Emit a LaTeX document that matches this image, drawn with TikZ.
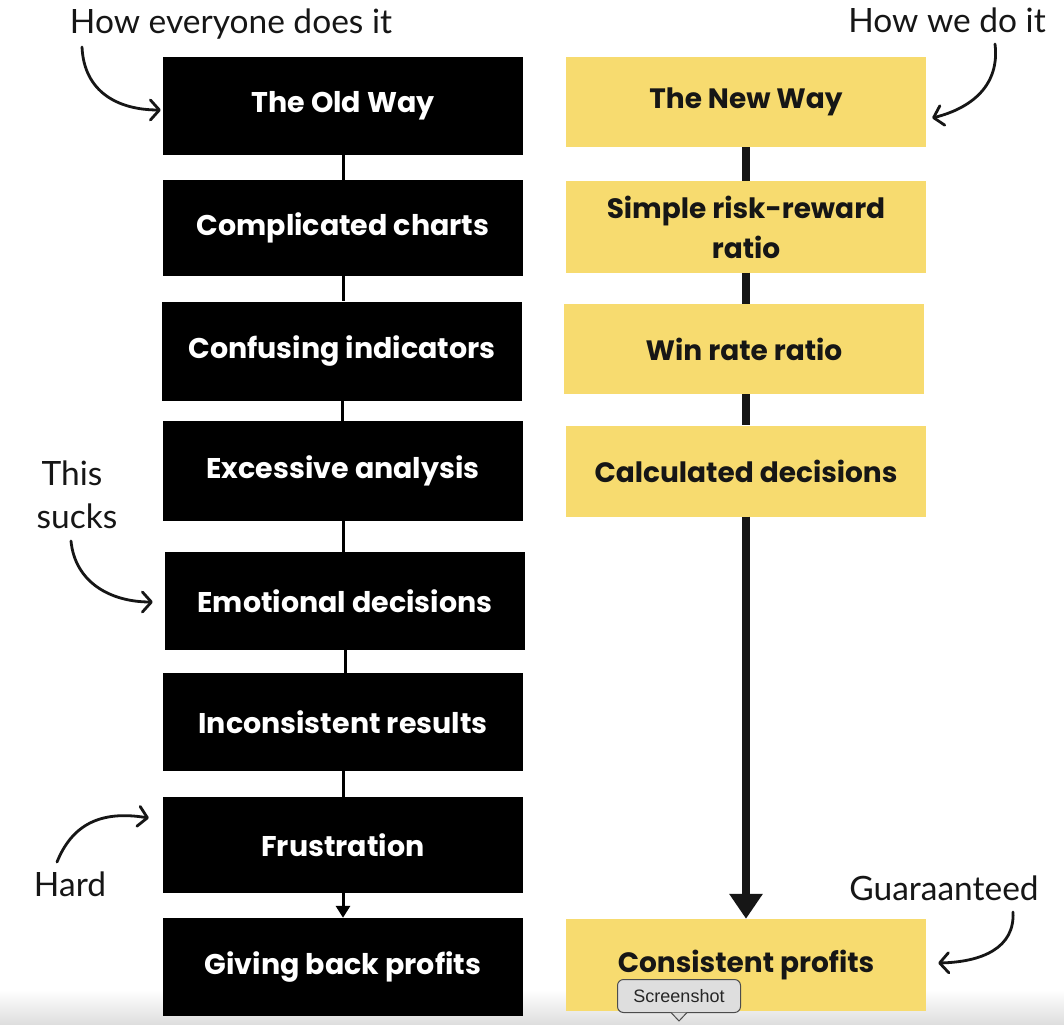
\documentclass[tikz,border=0pt]{standalone}
\usepackage{fontspec}
\setmainfont{Poppins}
\newfontfamily\handfont{Lato}
\newfontfamily\uifont{Liberation Sans}
\usetikzlibrary{arrows.meta,calc}
\definecolor{ylw}{RGB}{247,219,111}
\definecolor{ink}{RGB}{22,22,22}
\definecolor{tipgray}{RGB}{222,222,222}
\begin{document}
\begin{tikzpicture}[x=1pt,y=-1pt,
  oldbox/.style={fill=black,text=white,minimum width=360pt,inner sep=0pt,
    font=\bfseries\fontsize{28.5}{34}\selectfont,align=center},
  newbox/.style={fill=ylw,text=ink,minimum width=360pt,inner sep=0pt,
    font=\bfseries\fontsize{28}{40}\selectfont,align=center},
  note/.style={font=\handfont\fontsize{33.5}{36}\selectfont,text=ink,inner sep=0pt,anchor=base},
  thinlink/.style={line width=3pt,draw=black},
  thicklink/.style={line width=8pt,draw=ink},
  handarrow/.style={line width=2.8pt,draw=ink,line cap=round,
    -{Straight Barb[length=9pt,width=20pt,round]}},
  tipbox/.style={fill=tipgray,draw=black!70,line width=1pt,rounded corners=6pt,
    minimum width=123pt,minimum height=33pt,inner sep=0pt,
    font=\uifont\fontsize{18}{20}\selectfont,text=black!85}
]
\useasboundingbox (0,0) rectangle (1064,1024);
\fill[white] (0,0) rectangle (1064,1024);
\shade[top color=white,bottom color=black!13] (0,990) rectangle (1064,1024);

% Old way column
\node[oldbox,minimum height=98pt] (o1) at (343,106) {The Old Way};
\node[oldbox,minimum height=96pt] (o2) at (343,228) {Complicated charts};
\node[oldbox,minimum height=99pt] (o3) at (342,351) {Confusing indicators};
\node[oldbox,minimum height=100pt] (o4) at (343,471) {Excessive analysis};
\node[oldbox,minimum height=98pt] (o5) at (345,601) {Emotional decisions};
\node[oldbox,minimum height=98pt] (o6) at (343,722) {Inconsistent results};
\node[oldbox,minimum height=96pt] (o7) at (343,845) {Frustration};
\node[oldbox,minimum height=98pt] (o8) at (343,967) {Giving back profits};

\draw[thinlink] (o1.south) -- (o1.south |- o2.north);
\draw[thinlink] (o2.south) -- (o2.south |- o3.north);
\draw[thinlink] (o3.south) -- (o3.south |- o4.north);
\draw[thinlink] (o4.south) -- (o4.south |- o5.north);
\draw[thinlink] (o5.south) -- (o5.south |- o6.north);
\draw[thinlink] (o6.south) -- (o6.south |- o7.north);
\draw[thinlink,-{Triangle[length=12pt,width=14pt]}] (o7.south) -- (o7.south |- o8.north);

% New way column
\node[newbox,minimum height=90pt] (n1) at (746,102) {The New Way};
\node[newbox,minimum height=91pt] (n2) at (746,227) {Simple risk-reward\\ratio};
\node[newbox,minimum height=90pt] (n3) at (744,349) {Win rate ratio};
\node[newbox,minimum height=91pt] (n4) at (746,471) {Calculated decisions};
\node[newbox,minimum height=92pt] (n5) at (746,965) {Consistent profits};

\draw[thicklink] (n1.south) -- (n1.south |- n2.north);
\draw[thicklink] (n2.south) -- (n2.south |- n3.north);
\draw[thicklink] ([xshift=2pt]n3.south) -- ([xshift=2pt]n3.south |- n4.north);
\draw[thicklink,-{Triangle[length=25pt,width=32pt]}] (n4.south) -- (n4.south |- n5.north);

% Handwritten notes
\node[note] (t1) at (231,34) {How everyone does it};
\node[note] (t2) at (947,33) {How we do it};
\node[note] (t3) at (72,485) {This};
\node[note] (t3b) at (77,528) {sucks};
\node[note] (t4) at (70,896) {Hard};
\node[note] (t5) at (944,900) {Guaraanteed};

\coordinate (a1) at (82,47);
\coordinate (a2) at (995,44);
\coordinate (a3) at (71,541);
\coordinate (a4) at (57,862);
\coordinate (a5) at (1013,912);

\draw[handarrow] (a1) .. controls (84,92) and (118,110) .. ([shift={(-2,4)}]o1.west);
\draw[handarrow] (a2) .. controls (1000,85) and (972,108) .. ([shift={(6,16)}]n1.east);
\draw[handarrow] (a3) .. controls (75,582) and (110,602) .. ([shift={(-12,1)}]o5.west);
\draw[handarrow] (a4) .. controls (72,825) and (100,810) .. ([shift={(-14,-27)}]o7.west);
\draw[handarrow] (a5) .. controls (1015,948) and (982,962) .. ([shift={(12,-2)}]n5.east);

% Screenshot tooltip
\node[tipbox] (ss) at (679,996) {Screenshot};
\coordinate (tipl) at (671,1012.5);
\coordinate (tipr) at (687,1012.5);
\coordinate (tipb) at (679,1021);
\fill[tipgray] (tipl) -- (tipb) -- (tipr) -- cycle;
\draw[black!70,line width=1pt] (tipl) -- (tipb) -- (tipr);
\end{tikzpicture}
\end{document}
